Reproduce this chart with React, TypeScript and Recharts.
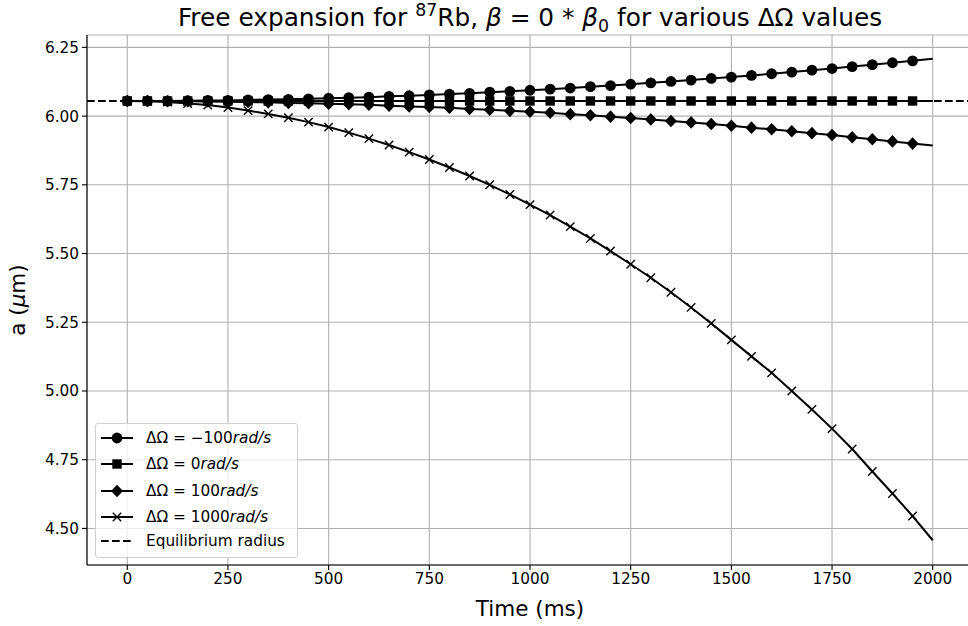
import React from 'react';
import { LineChart, Line, XAxis, YAxis, CartesianGrid, ReferenceLine } from 'recharts';

// time in ms, markers on every point except the last one
const times = [
  0, 50, 100, 150, 200, 250, 300, 350, 400, 450, 500, 550, 600, 650, 700, 750, 800, 850, 900, 950,
  1000, 1050, 1100, 1150, 1200, 1250, 1300, 1350, 1400, 1450, 1500, 1550, 1600, 1650, 1700, 1750,
  1800, 1850, 1900, 1950, 2000,
];

// a (µm) for ΔΩ = -100 rad/s
const omegaMinus100 = [
  6.055, 6.055, 6.055, 6.056, 6.057, 6.057, 6.059, 6.06, 6.061, 6.063, 6.065, 6.067, 6.069, 6.072,
  6.074, 6.077, 6.08, 6.083, 6.087, 6.09, 6.094, 6.098, 6.102, 6.107, 6.111, 6.116, 6.121, 6.126,
  6.131, 6.137, 6.142, 6.148, 6.154, 6.16, 6.167, 6.173, 6.18, 6.187, 6.194, 6.201, 6.209,
];

// a (µm) for ΔΩ = 0 rad/s
const omegaZero = [
  6.055, 6.055, 6.055, 6.055, 6.055, 6.055, 6.055, 6.055, 6.055, 6.055, 6.055, 6.055, 6.055, 6.055,
  6.055, 6.055, 6.055, 6.055, 6.055, 6.055, 6.055, 6.055, 6.055, 6.055, 6.055, 6.055, 6.055, 6.055,
  6.055, 6.055, 6.055, 6.055, 6.055, 6.055, 6.055, 6.055, 6.055, 6.055, 6.055, 6.055, 6.055,
];

// a (µm) for ΔΩ = 100 rad/s
const omegaPlus100 = [
  6.055, 6.055, 6.054, 6.054, 6.053, 6.052, 6.051, 6.05, 6.048, 6.047, 6.045, 6.043, 6.041, 6.038,
  6.035, 6.033, 6.03, 6.026, 6.023, 6.019, 6.016, 6.012, 6.007, 6.003, 5.998, 5.993, 5.988, 5.982,
  5.977, 5.971, 5.965, 5.958, 5.952, 5.945, 5.938, 5.931, 5.923, 5.916, 5.908, 5.9, 5.893,
];

// a (µm) for ΔΩ = 1000 rad/s
const omegaPlus1000 = [
  6.055, 6.054, 6.051, 6.046, 6.04, 6.031, 6.02, 6.008, 5.994, 5.978, 5.96, 5.94, 5.918, 5.895,
  5.869, 5.842, 5.813, 5.782, 5.75, 5.715, 5.678, 5.64, 5.598, 5.555, 5.509, 5.461, 5.412, 5.359,
  5.304, 5.246, 5.186, 5.126, 5.066, 5.0, 4.933, 4.863, 4.789, 4.707, 4.627, 4.545, 4.457,
];

const equilibriumRadius = 6.055;

const xTicks = [0, 250, 500, 750, 1000, 1250, 1500, 1750, 2000];
const yTicks = [4.5, 4.75, 5.0, 5.25, 5.5, 5.75, 6.0, 6.25];

const data = times.map((t, i) => ({
  t,
  m100: omegaMinus100[i],
  zero: omegaZero[i],
  p100: omegaPlus100[i],
  p1000: omegaPlus1000[i],
}));

const FONT = '"DejaVu Sans", sans-serif';
const LAST_T = times[times.length - 1];

type Kind = 'circle' | 'square' | 'diamond' | 'cross' | 'dash';

function Marker({ kind, cx, cy }: { kind: Kind; cx: number; cy: number }) {
  if (kind === 'circle') return <circle cx={cx} cy={cy} r={5.4} fill="#000" />;
  if (kind === 'square') return <rect x={cx - 4.7} y={cy - 4.7} width={9.4} height={9.4} fill="#000" />;
  if (kind === 'diamond')
    return <polygon points={`${cx},${cy - 6.3} ${cx + 6},${cy} ${cx},${cy + 6.3} ${cx - 6},${cy}`} fill="#000" />;
  if (kind === 'cross')
    return (
      <g stroke="#000" strokeWidth={1.4}>
        <line x1={cx - 4.2} y1={cy - 4.2} x2={cx + 4.2} y2={cy + 4.2} />
        <line x1={cx - 4.2} y1={cy + 4.2} x2={cx + 4.2} y2={cy - 4.2} />
      </g>
    );
  return null;
}

const makeDot = (kind: Kind) => (props: any) => {
  const { cx, cy, index, payload } = props;
  const key = `${kind}-${index}`;
  if (cx == null || cy == null || !payload || payload.t >= LAST_T) return <g key={key} />;
  return (
    <g key={key}>
      <Marker kind={kind} cx={cx} cy={cy} />
    </g>
  );
};

const legendItems: { kind: Kind; value: string; unit: string }[] = [
  { kind: 'circle', value: 'ΔΩ = −100', unit: 'rad/s' },
  { kind: 'square', value: 'ΔΩ = 0', unit: 'rad/s' },
  { kind: 'diamond', value: 'ΔΩ = 100', unit: 'rad/s' },
  { kind: 'cross', value: 'ΔΩ = 1000', unit: 'rad/s' },
  { kind: 'dash', value: 'Equilibrium radius', unit: '' },
];

function LegendBox() {
  const rowY = [14, 40, 66.5, 92.5, 117];
  return (
    <div
      style={{
        position: 'absolute',
        left: 95,
        top: 423,
        width: 201,
        height: 133,
        background: 'rgba(255,255,255,0.8)',
        border: '1px solid #d0d0d0',
        borderRadius: 3,
        fontFamily: FONT,
        fontSize: 15.3,
        color: '#000',
        zIndex: 3,
      }}
    >
      {legendItems.map((item, i) => (
        <div key={item.value} style={{ position: 'absolute', left: 0, top: rowY[i] - 10, height: 20, display: 'flex', alignItems: 'center' }}>
          <svg width={44} height={20} style={{ display: 'block' }}>
            {item.kind === 'dash' ? (
              <line x1={5} y1={10} x2={37} y2={10} stroke="#000" strokeWidth={2} strokeDasharray="7.7 3.3" />
            ) : (
              <>
                <line x1={5} y1={10} x2={37} y2={10} stroke="#000" strokeWidth={2} />
                <Marker kind={item.kind} cx={21} cy={10} />
              </>
            )}
          </svg>
          <span style={{ marginLeft: 6, whiteSpace: 'nowrap' }}>
            {item.value}
            {item.unit && <i>{item.unit}</i>}
          </span>
        </div>
      ))}
    </div>
  );
}

export default function App() {
  return (
    <div style={{ position: 'absolute', left: 0, top: 0, width: 968, height: 626, overflow: 'hidden', background: '#fff' }}>
      <div
        style={{
          position: 'absolute',
          left: 87,
          top: 3,
          width: 886,
          textAlign: 'center',
          fontFamily: FONT,
          fontSize: 24.8,
          lineHeight: '30px',
          color: '#000',
          zIndex: 2,
        }}
      >
        Free expansion for <span style={{ fontSize: '70%', position: 'relative', top: -10 }}>87</span>Rb,{' '}
        <i>β</i> = 0 * <i>β</i>
        <span style={{ fontSize: '70%', position: 'relative', top: 6 }}>0</span> for various ΔΩ values
      </div>
      <LineChart
        width={985}
        height={626}
        data={data}
        margin={{ top: 35, right: 12, bottom: 0, left: 0 }}
        style={{ fontFamily: FONT }}
      >
        <CartesianGrid stroke="#b0b0b0" strokeWidth={1.1} />
        <XAxis
          dataKey="t"
          type="number"
          domain={[-100, 2100]}
          ticks={xTicks}
          allowDataOverflow
          height={61}
          tickSize={5}
          tickMargin={3}
          tick={{ fill: '#000', fontSize: 15.3 }}
          tickLine={{ stroke: '#000', strokeWidth: 1.1 }}
          axisLine={{ stroke: '#000', strokeWidth: 1.1 }}
          label={{ value: 'Time (ms)', position: 'insideBottom', offset: 10, fill: '#000', fontSize: 21.5 }}
        />
        <XAxis
          xAxisId="top"
          orientation="top"
          dataKey="t"
          type="number"
          domain={[-100, 2100]}
          height={0}
          tick={false}
          tickLine={false}
          axisLine={{ stroke: '#000', strokeWidth: 1.1 }}
        />
        <YAxis
          type="number"
          domain={[4.367, 6.295]}
          ticks={yTicks}
          allowDataOverflow
          width={87}
          tickSize={5}
          tickMargin={3}
          tickFormatter={(v: number) => v.toFixed(2)}
          tick={{ fill: '#000', fontSize: 15.3 }}
          tickLine={{ stroke: '#000', strokeWidth: 1.1 }}
          axisLine={{ stroke: '#000', strokeWidth: 1.1 }}
          label={{
            content: () => (
              <text x={25} y={300} transform="rotate(-90 25 300)" textAnchor="middle" fontSize={21.5} fill="#000" fontFamily={FONT}>
                a (<tspan fontStyle="italic">μ</tspan>m)
              </text>
            ),
          }}
        />
        <Line dataKey="m100" stroke="#000" strokeWidth={2} dot={makeDot('circle')} activeDot={false} isAnimationActive={false} />
        <Line dataKey="zero" stroke="#000" strokeWidth={2} dot={makeDot('square')} activeDot={false} isAnimationActive={false} />
        <Line dataKey="p100" stroke="#000" strokeWidth={2} dot={makeDot('diamond')} activeDot={false} isAnimationActive={false} />
        <Line dataKey="p1000" stroke="#000" strokeWidth={2} dot={makeDot('cross')} activeDot={false} isAnimationActive={false} />
        <ReferenceLine y={equilibriumRadius} stroke="#000" strokeWidth={2} strokeDasharray="7.7 3.3" />
      </LineChart>
      <LegendBox />
    </div>
  );
}
